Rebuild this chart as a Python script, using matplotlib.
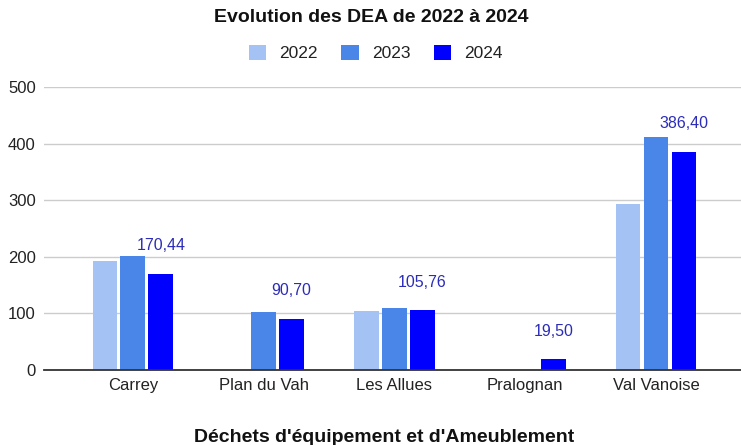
import matplotlib.pyplot as plt
import numpy as np

plt.rcParams['font.family'] = ['Liberation Sans', 'DejaVu Sans']

# data
communes = ["Carrey", "Plan du Vah", "Les Allues", "Pralognan", "Val Vanoise"]
years = ["2022", "2023", "2024"]
dea_2022 = [193, 0, 104, 0, 294]
dea_2023 = [202, 103, 110, 0, 412]
dea_2024 = [170.44, 90.70, 105.76, 19.50, 386.40]
labels_2024 = ["170,44", "90,70", "105,76", "19,50", "386,40"]
colors = ["#a4c2f4", "#4a86e8", "#0000ff"]

fig = plt.figure(figsize=(7.41, 4.45), dpi=100)
ax = fig.add_axes([44 / 741, 1 - 370 / 445, 1 - 44 / 741, (370 - 87.3) / 445])

x = np.arange(len(communes))
step = 0.214
width = 0.19
series = [dea_2022, dea_2023, dea_2024]
bars = []
for i, vals in enumerate(series):
    b = ax.bar(x + (i - 1) * step, vals, width, color=colors[i], label=years[i], zorder=3)
    bars.append(b)

# value labels on 2024 bars
for rect, txt in zip(bars[2], labels_2024):
    ax.annotate(txt, (rect.get_x() + rect.get_width() / 2, rect.get_height()),
                xytext=(0, 20), textcoords="offset points",
                ha="center", va="center", fontsize=11.5, color="#2c2cb8")

ax.set_xlim(-0.68, 4.65)
ax.set_ylim(0, 500)
ax.set_yticks([0, 100, 200, 300, 400, 500])
ax.set_xticks(x)
ax.set_xticklabels(communes)
ax.tick_params(axis="both", length=0, labelsize=12, colors="#222222")
ax.tick_params(axis="x", pad=6)
ax.tick_params(axis="y", pad=6)
ax.grid(axis="y", color="#cccccc", linewidth=1, zorder=0)
for s in ["top", "right", "left"]:
    ax.spines[s].set_visible(False)
ax.spines["bottom"].set_color("#333333")
ax.spines["bottom"].set_linewidth(1.3)
ax.spines["bottom"].set_zorder(4)

fig.text(0.501, 1 - 18 / 445, "Evolution des DEA de 2022 à 2024", ha="center", va="center",
         fontsize=14, fontweight="bold", color="#111111")
fig.text(0.519, 1 - 437 / 445, "Déchets d'équipement et d'Ameublement", ha="center", va="center",
         fontsize=14, fontweight="bold", color="#111111")

fig.legend(loc="center", bbox_to_anchor=(0.507, 1 - 53 / 445), ncol=3, frameon=False,
           fontsize=12.5, handlelength=1.0, handleheight=1.0, handletextpad=0.75,
           columnspacing=1.35, labelcolor="#222222")

fig.savefig("out.png", dpi=100)
